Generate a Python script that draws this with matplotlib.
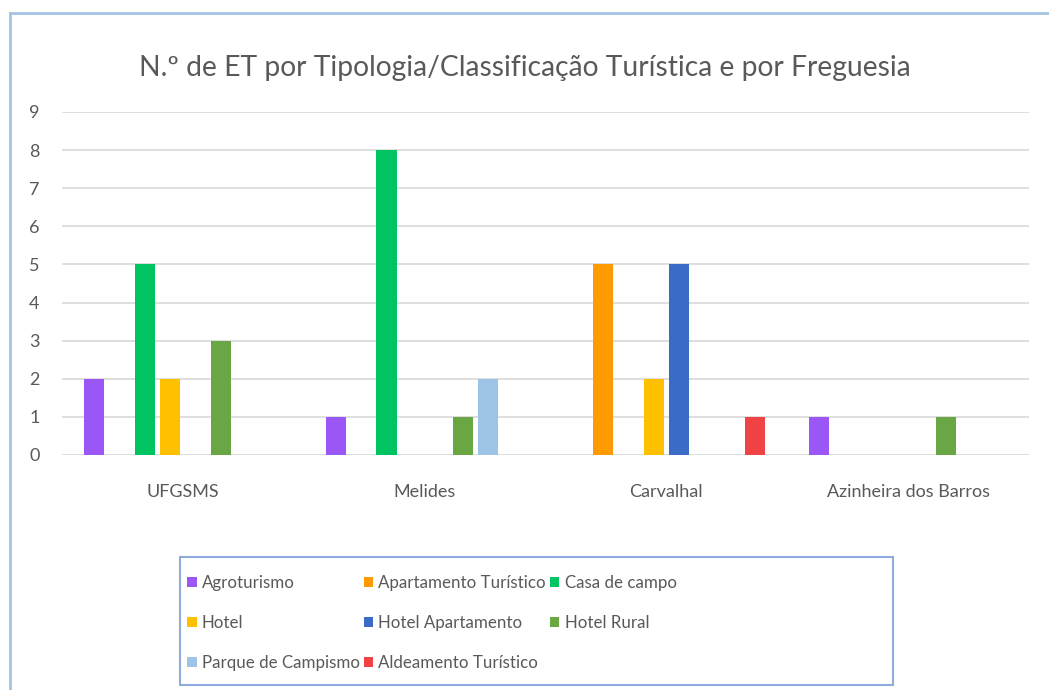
import matplotlib.pyplot as plt
import numpy as np
from matplotlib.patches import Rectangle
from matplotlib.lines import Line2D

plt.rcParams['font.family'] = ['Lato', 'DejaVu Sans']

# data
freguesias = ["UFGSMS", "Melides", "Carvalhal", "Azinheira dos Barros"]
tipologias = ["Agroturismo", "Apartamento Turístico", "Casa de campo", "Hotel",
              "Hotel Apartamento", "Hotel Rural", "Parque de Campismo",
              "Aldeamento Turístico"]
agroturismo = [2, 1, 0, 1]
apartamento_turistico = [0, 0, 5, 0]
casa_de_campo = [5, 8, 0, 0]
hotel = [2, 0, 2, 0]
hotel_apartamento = [0, 0, 5, 0]
hotel_rural = [3, 1, 0, 1]
parque_campismo = [0, 2, 0, 0]
aldeamento_turistico = [0, 0, 1, 0]

series = [agroturismo, apartamento_turistico, casa_de_campo, hotel,
          hotel_apartamento, hotel_rural, parque_campismo, aldeamento_turistico]
colors = ["#9A57F6", "#FF9A00", "#00C462", "#FFC000",
          "#3A6BC6", "#6AA744", "#9DC3E6", "#F04444"]

text_col = "#595959"
grid_col = "#D9D9D9"

fig = plt.figure(figsize=(10.49, 6.9), dpi=100)
ax = fig.add_axes([0.059, 0.3406, 0.922, 0.4971])

x = np.arange(len(freguesias))
slot = 0.105
width = 0.083
handles = []
for i, (vals, c) in enumerate(zip(series, colors)):
    offs = (i - 3.5) * slot
    b = ax.bar(x + offs, vals, width=width, color=c, label=tipologias[i], zorder=3)
    handles.append(b)

ax.set_xlim(-0.5, len(freguesias) - 0.5)
ax.set_ylim(0, 9)
ax.set_yticks(range(0, 10))
ax.set_xticks(x)
ax.set_xticklabels(freguesias)
ax.tick_params(axis='both', length=0, labelsize=13, colors=text_col)
ax.tick_params(axis='x', pad=21)
ax.tick_params(axis='y', pad=16)
ax.grid(axis='y', color=grid_col, linewidth=1.2, zorder=0)
for s in ax.spines.values():
    s.set_visible(False)

fig.text(0.5, 0.902, "N.º de ET por Tipologia/Classificação Turística e por Freguesia",
         ha='center', va='center', fontsize=20.3, color=text_col)

# legend (row-wise order like Excel)
order = [0, 3, 6, 1, 4, 7, 2, 5]
leg = fig.legend([handles[i] for i in order], [tipologias[i] for i in order],
                 ncol=3, loc='upper left', bbox_to_anchor=(0.172, 0.176),
                 frameon=False, fontsize=12.2, handlelength=0.55, handleheight=0.55,
                 handletextpad=0.3, columnspacing=0.25, labelspacing=1.4,
                 borderaxespad=0)
for t in leg.get_texts():
    t.set_color(text_col)

# legend box
fig.add_artist(Rectangle((180 / 1049, 1 - 685 / 690), (893 - 180) / 1049,
                         (685 - 557) / 690, transform=fig.transFigure,
                         fill=False, edgecolor="#8FAADC", linewidth=1.5))

# chart frame lines (left and top)
fig.add_artist(Line2D([10 / 1049, 10 / 1049], [0, 1 - 13 / 690],
                      transform=fig.transFigure, color="#A2C4E2", linewidth=2))
fig.add_artist(Line2D([10 / 1049, 1], [1 - 13 / 690, 1 - 13 / 690],
                      transform=fig.transFigure, color="#A2C4E2", linewidth=2))

fig.savefig("out.png", dpi=100)
